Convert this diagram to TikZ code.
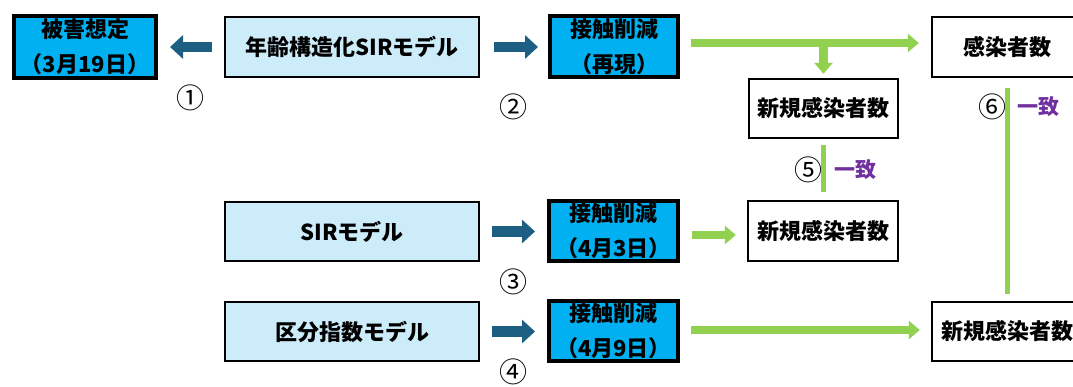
\documentclass[tikz,border=0pt]{standalone}
\usepackage{fontspec}
\setmainfont{Noto Sans CJK JP}
\usetikzlibrary{arrows.meta,calc}
\definecolor{darkarrow}{HTML}{1D5F82}
\definecolor{garrow}{HTML}{92D050}
\definecolor{purp}{HTML}{7030A0}
\definecolor{lightblue}{HTML}{CCECFA}
\definecolor{strongblue}{HTML}{00B0F0}
\tikzset{
  boxtext/.style={font=\fontsize{22}{35}\selectfont\bfseries, align=center, inner sep=0pt},
  lbbox/.style={boxtext, draw=black, line width=2pt, fill=lightblue},
  bbbox/.style={boxtext, draw=black, line width=4pt, fill=strongblue},
  wbox/.style={boxtext, draw=black, line width=2.4pt, fill=white},
  darr/.style={draw=darkarrow, line width=10.5pt, -{Triangle[length=13pt,width=23pt]}},
  garr/.style={draw=garrow, line width=8.5pt, -{Triangle[length=11pt,width=18pt]}},
  gline/.style={draw=garrow, line width=5pt},
  circnum/.style={font=\fontsize{28}{28}\selectfont, inner sep=0pt},
  agree/.style={font=\fontsize{21}{21}\selectfont\bfseries, text=purp, inner sep=0pt},
}
\begin{document}
\begin{tikzpicture}[x=1pt,y=-1pt]
\useasboundingbox (0,0) rectangle (1073,387);
\clip (0,0) rectangle (1073,387);
% boxes
\node[bbbox, minimum width=142pt, minimum height=62pt] (dmg) at (85,47) {被害想定\\（3月19日）};
\node[lbbox, minimum width=254pt, minimum height=60pt] (age) at (352,47) {年齢構造化SIRモデル};
\node[bbbox, minimum width=128pt, minimum height=61pt] (cr1) at (614,46.5) {接触削減\\（再現）};
\node[wbox, minimum width=150pt, minimum height=60pt] (tot) at (1007,47) {感染者数};
\node[wbox, minimum width=149pt, minimum height=59pt] (new1) at (823.5,108.5) {新規感染者数};
\node[lbbox, minimum width=254pt, minimum height=59pt] (sir) at (352,231.5) {SIRモデル};
\node[bbbox, minimum width=129pt, minimum height=60pt] (cr2) at (613.5,231) {接触削減\\（4月3日）};
\node[wbox, minimum width=150pt, minimum height=60pt] (new2) at (823,231) {新規感染者数};
\node[lbbox, minimum width=254pt, minimum height=59pt] (seg) at (352,331.5) {区分指数モデル};
\node[bbbox, minimum width=129pt, minimum height=60pt] (cr3) at (613.5,331) {接触削減\\（4月9日）};
\node[wbox, minimum width=150pt, minimum height=59pt] (new3) at (1007,331.5) {新規感染者数};
% dark arrows
\draw[darr, shorten <=12pt, shorten >=12pt] (age.west) -- (age.west -| dmg.east);
\draw[darr, shorten <=14pt, shorten >=10pt] (age.east) -- (age.east -| cr1.west);
\draw[darr, shorten <=12pt, shorten >=12pt] (sir.east) -- (sir.east -| cr2.west);
\draw[darr, shorten <=12pt, shorten >=12pt] (seg.east) -- (seg.east -| cr3.west);
% green arrows
\coordinate (g1) at ($(cr1.east)+(0,-3.5)$);
\draw[garr, shorten <=11pt, shorten >=12pt] (g1) -- (g1 -| tot.west);
\coordinate (j) at (g1 -| new1.north);
\draw[garr, shorten >=4pt] (j) -- (new1.north);
\coordinate (g2) at ($(cr2.east)+(0,4)$);
\draw[garr, shorten <=12pt, shorten >=11pt] (g2) -- (g2 -| new2.west);
\coordinate (g3) at ($(cr3.east)+(0,-1)$);
\draw[garr, shorten <=11pt, shorten >=11pt] (g3) -- (g3 -| new3.west);
% agreement lines
\draw[gline, shorten <=6pt, shorten >=8pt] (new1.south) -- (new1.south |- new2.north);
\draw[gline, shorten <=10pt, shorten >=7pt] (tot.south) -- (new3.north);
% labels
\node[circnum] (c1) at (190,98) {①};
\node[circnum] (c2) at (513,107) {②};
\node[circnum] (c3) at (513,282) {③};
\node[circnum] (c4) at (513,372) {④};
\node[circnum] (c5) at (808,170) {⑤};
\node[agree] (a5) at (855,170) {一致};
\node[circnum] (c6) at (992,107) {⑥};
\node[agree] (a6) at (1038,107) {一致};
\end{tikzpicture}
\end{document}
